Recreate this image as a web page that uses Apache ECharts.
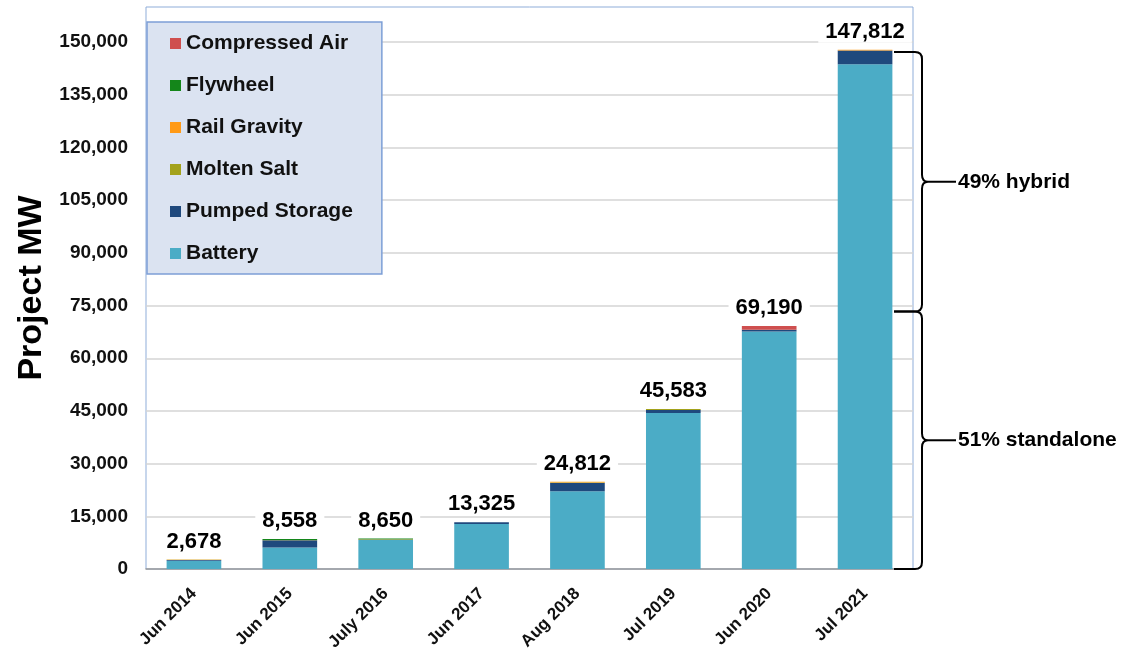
<!DOCTYPE html>
<html>
<head>
<meta charset="utf-8">
<script src="https://cdn.jsdelivr.net/npm/echarts@6/dist/echarts.min.js"></script>
<style>
html,body{margin:0;padding:0;background:#fff;}
#chart{width:1134px;height:654px;}
</style>
</head>
<body>
<div id="chart"></div>
<script>
const categories = ['Jun 2014','Jun 2015','July 2016','Jun 2017','Aug 2018','Jul 2019','Jun 2020','Jul 2021'];
const battery       = [2350, 6100, 8250, 12800, 22100, 44400, 67600, 143700];
const pumpedStorage = [200, 2050, 100, 525, 2400, 900, 500, 3900];
const moltenSalt    = [78, 100, 150, 0, 150, 283, 0, 0];
const railGravity   = [50, 0, 0, 0, 162, 0, 0, 212];
const flywheel      = [0, 308, 150, 0, 0, 0, 0, 0];
const compressedAir = [0, 0, 0, 0, 0, 0, 1090, 0];
const totals        = [2678, 8558, 8650, 13325, 24812, 45583, 69190, 147812];
const yTicks        = [0, 15000, 30000, 45000, 60000, 75000, 90000, 105000, 120000, 135000, 150000];
const braces = [
  { from: 73300, to: 147200, text: '49% hybrid' },
  { from: 0, to: 73300, text: '51% standalone' }
];

const FONT = '"Liberation Sans", Arial, sans-serif';
const colors = {
  'Battery': '#4bacc6',
  'Pumped Storage': '#1f497d',
  'Molten Salt': '#a3a21c',
  'Rail Gravity': '#ff9a17',
  'Flywheel': '#14861a',
  'Compressed Air': '#cf4f4f'
};
const seriesDefs = [
  ['Battery', battery],
  ['Pumped Storage', pumpedStorage],
  ['Molten Salt', moltenSalt],
  ['Rail Gravity', railGravity],
  ['Flywheel', flywheel],
  ['Compressed Air', compressedAir]
];

const chart = echarts.init(document.getElementById('chart'), null, {renderer: 'canvas'});

const series = seriesDefs.map(([name, data]) => ({
  name, type: 'bar', stack: 'total', data,
  barWidth: '57%',
  itemStyle: { color: colors[name] },
  emphasis: { disabled: true }
}));

series[0].markLine = {
  silent: true, symbol: 'none', label: { show: false },
  lineStyle: { color: '#d4d4d4', width: 1.5, type: 'solid' },
  data: yTicks.filter(v => v > 0).map(v => ({ yAxis: v })),
  z: 0,
  animation: false
};

series.push({
  name: 'Total', type: 'scatter', data: totals, symbolSize: 0,
  silent: true, z: 5,
  itemStyle: { opacity: 1, color: '#fff' },
  label: {
    show: true, position: 'top', distance: 7,
    formatter: p => p.value.toLocaleString('en-US'),
    fontFamily: FONT, fontWeight: 'bold', fontSize: 22, color: '#000',
    backgroundColor: '#fff', padding: [1, 7, 0, 7]
  }
});

series.push({
  name: 'Braces', type: 'custom', silent: true, z: 6,
  data: braces.map(b => [b.from, b.to]),
  renderItem: function (params, api) {
    const cs = params.coordSys;
    const b = braces[params.dataIndex];
    const yTop = api.coord([0, b.to])[1];
    const yBot = api.coord([0, b.from])[1];
    const ym = (yTop + yBot) / 2;
    const right = cs.x + cs.width;
    const xe = right - 19;
    const xv = right + 9;
    const xt = right + 15;
    const r = 7;
    const path = `M${xe},${yTop} L${xv - r},${yTop} Q${xv},${yTop} ${xv},${yTop + r} L${xv},${ym - r} Q${xv},${ym} ${xt},${ym} Q${xv},${ym} ${xv},${ym + r} L${xv},${yBot - r} Q${xv},${yBot} ${xv - r},${yBot} L${xe},${yBot}`;
    return {
      type: 'group',
      children: [
        { type: 'path', shape: { pathData: path }, style: { fill: null, stroke: '#000', lineWidth: 2 } },
        { type: 'line', shape: { x1: xt, y1: ym, x2: xt + 28, y2: ym }, style: { stroke: '#000', lineWidth: 2 } },
        { type: 'text', x: xt + 30, y: ym, style: { text: b.text, fontFamily: FONT, fontWeight: 'bold', fontSize: 21, fill: '#000', verticalAlign: 'middle', align: 'left' } }
      ]
    };
  }
});

chart.setOption({
  animation: false,
  backgroundColor: '#fff',
  grid: {
    left: 146, right: 221, top: 7, bottom: 85,
    show: true, borderColor: '#8fadd9', borderWidth: 1, backgroundColor: 'transparent'
  },
  legend: {
    data: ['Compressed Air', 'Flywheel', 'Rail Gravity', 'Molten Salt', 'Pumped Storage', 'Battery'],
    orient: 'vertical', left: 147, top: 22,
    padding: [11, 29, 10, 23],
    itemWidth: 11, itemHeight: 11, itemGap: 21,
    icon: 'rect',
    backgroundColor: '#dbe3f1', borderColor: '#7d9fd6', borderWidth: 1.5,
    textStyle: { fontFamily: FONT, fontWeight: 'bold', fontSize: 21, color: '#111', lineHeight: 21 },
    selectedMode: false
  },
  xAxis: {
    type: 'category', data: categories,
    axisLine: { lineStyle: { color: '#999', width: 1.5 } },
    axisTick: { show: false },
    axisLabel: { rotate: 45, margin: 22, fontFamily: FONT, fontWeight: 'bold', fontSize: 17, color: '#111', interval: 0 }
  },
  yAxis: {
    type: 'value', min: 0, max: 160000, interval: 5000,
    name: 'Project MW', nameLocation: 'middle', nameGap: 92, nameRotate: 90,
    nameTextStyle: { fontFamily: FONT, fontWeight: 'bold', fontSize: 34, color: '#000' },
    axisLine: { show: false }, axisTick: { show: false },
    axisLabel: {
      margin: 18, fontFamily: FONT, fontWeight: 'bold', fontSize: 19, color: '#111',
      formatter: v => yTicks.includes(v) ? v.toLocaleString('en-US') : ''
    },
    splitLine: { show: false }
  },
  series
});
</script>
</body>
</html>
